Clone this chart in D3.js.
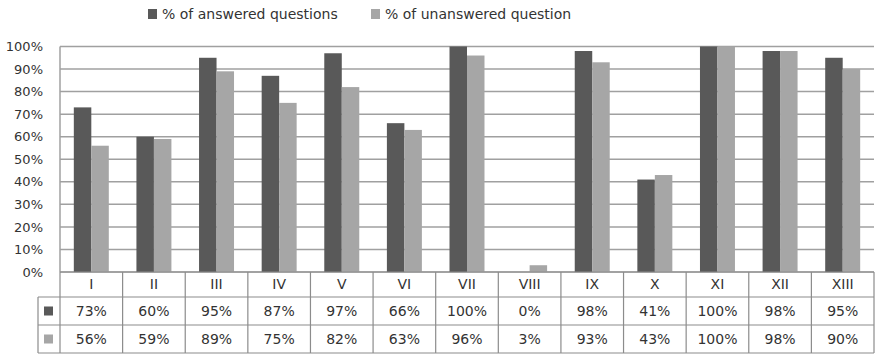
<!DOCTYPE html>
<html><head><meta charset="utf-8">
<script src="https://cdn.jsdelivr.net/npm/d3@7"></script>
<style>
body{margin:0;background:#fff;}
svg{display:block;}
text{font-family:"DejaVu Sans",sans-serif;fill:#333;}
</style></head>
<body>
<svg id="chart" width="875" height="354"></svg>
<script>
const categories = ["I","II","III","IV","V","VI","VII","VIII","IX","X","XI","XII","XIII"];
const seriesNames = ["% of answered questions","% of unanswered question"];
const answered = [73,60,95,87,97,66,100,0,98,41,100,98,95];
const unanswered = [56,59,89,75,82,63,96,3,93,43,100,98,90];
const yTicks = [0,10,20,30,40,50,60,70,80,90,100];
const colors = ["#595959","#a6a6a6"];

(function(){
const series = [answered, unanswered];
const svg = d3.select("#chart");
const pLeft = 60, pRight = 874, pTop = 46.5, pBottom = 272;
const tableLeft = 38, rowEdges = [272, 297, 325, 353];

const x0 = d3.scaleBand().domain(categories).range([pLeft, pRight]).padding(0);
const x1 = d3.scaleBand().domain(d3.range(series.length)).range([0, x0.bandwidth()]).paddingInner(0).paddingOuter(0.79);
const y = d3.scaleLinear().domain([0,100]).range([pBottom, pTop]);

svg.append("g").selectAll("line").data(yTicks).join("line")
  .attr("x1", pLeft).attr("x2", pRight)
  .attr("y1", d => y(d)).attr("y2", d => y(d))
  .attr("stroke", "#a0a0a0").attr("stroke-width", 1.5);

const yAxis = d3.axisLeft(y).tickValues(yTicks).tickFormat(d => d + "%").tickSize(0).tickPadding(0);
const ya = svg.append("g").attr("transform", `translate(43,0)`).call(yAxis);
ya.select(".domain").remove();
ya.selectAll("text").attr("font-size", 13).attr("font-family", "DejaVu Sans").attr("fill", "#333");

const grp = svg.append("g").selectAll("g").data(categories).join("g")
  .attr("transform", d => `translate(${x0(d)},0)`);
grp.selectAll("rect").data((c, i) => series.map((s, k) => ({k, v: s[i]}))).join("rect")
  .attr("x", d => x1(d.k)).attr("width", x1.bandwidth())
  .attr("y", d => y(d.v)).attr("height", d => y(0) - y(d.v))
  .attr("fill", d => colors[d.k]);

svg.append("line").attr("x1", pLeft).attr("x2", pLeft).attr("y1", pTop).attr("y2", pBottom)
  .attr("stroke", "#a0a0a0").attr("stroke-width", 1.5);

const tb = svg.append("g").attr("stroke", "#8c8c8c").attr("stroke-width", 1.2).attr("fill", "none");
tb.append("line").attr("x1", pLeft).attr("x2", pRight).attr("y1", rowEdges[0]).attr("y2", rowEdges[0]);
rowEdges.slice(1).forEach(yy => tb.append("line").attr("x1", tableLeft).attr("x2", pRight).attr("y1", yy).attr("y2", yy));
const vx = categories.map(c => x0(c)).concat([pRight]);
vx.forEach(xx => tb.append("line").attr("x1", xx).attr("x2", xx).attr("y1", rowEdges[0]).attr("y2", rowEdges[3]));
tb.append("line").attr("x1", tableLeft).attr("x2", tableLeft).attr("y1", rowEdges[1]).attr("y2", rowEdges[3]);

svg.append("g").selectAll("text").data(categories).join("text")
  .attr("x", d => x0(d) + x0.bandwidth()/2).attr("y", (rowEdges[0]+rowEdges[1])/2)
  .attr("dy", "0.35em").attr("text-anchor", "middle").attr("font-size", 14).text(d => d);

series.forEach((s, k) => {
  const cy = (rowEdges[k+1] + rowEdges[k+2]) / 2;
  svg.append("g").selectAll("text").data(s).join("text")
    .attr("x", (d, i) => x0(categories[i]) + x0.bandwidth()/2).attr("y", cy)
    .attr("dy", "0.35em").attr("text-anchor", "middle").attr("font-size", 14).text(d => d + "%");
  svg.append("rect").attr("x", 44).attr("y", cy - 4.5).attr("width", 9).attr("height", 9).attr("fill", colors[k]);
});

const legendX = [148, 371];
seriesNames.forEach((n, k) => {
  svg.append("rect").attr("x", legendX[k]).attr("y", 9).attr("width", 9).attr("height", 10).attr("fill", colors[k]);
  svg.append("text").attr("x", legendX[k] + 14).attr("y", 14).attr("dy", "0.35em").attr("font-size", 14).text(n);
});
})();
</script>
</body></html>
